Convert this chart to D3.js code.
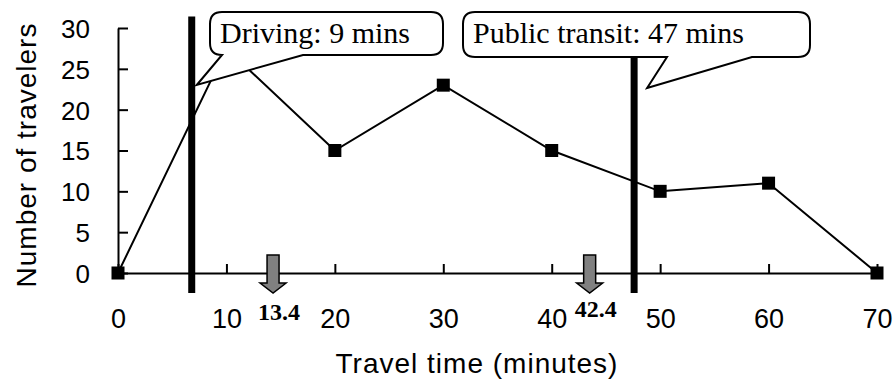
<!DOCTYPE html>
<html>
<head>
<meta charset="utf-8">
<script src="https://cdn.jsdelivr.net/npm/d3@7"></script>
<style>
  body { margin: 0; background: #fff; }
  svg { display: block; }
</style>
</head>
<body>
<div id="chart"></div>
<script>
// travel time (minutes) vs number of travelers
let times = [0, 10, 20, 30, 40, 50, 60, 70];
let travelers = [0, 27.5, 15, 23, 15, 10, 11, 0];
let xTicks = [0, 10, 20, 30, 40, 50, 60, 70];
let yTicks = [0, 5, 10, 15, 20, 25, 30];

// thick reference lines + callouts
let refTimes = [6.8, 47.6];
let refLabels = ["Driving: 9 mins", "Public transit: 47 mins"];

// grey arrows on the axis
let arrowTimes = [14.3, 43.5];
let arrowLabels = ["13.4", "42.4"];

let W = 895, H = 385;
let svg = d3.select("#chart").append("svg")
    .attr("width", W)
    .attr("height", H);

let x = d3.scaleLinear().domain([0, 70]).range([118, 877]);
let y = d3.scaleLinear().domain([0, 30]).range([273, 28]);

let sans = "'Liberation Sans', Arial, sans-serif";
let serif = "'Liberation Serif', 'Times New Roman', serif";

// x axis
let gx = svg.append("g")
    .attr("transform", "translate(0," + y(0) + ")")
    .call(d3.axisBottom(x).tickValues(xTicks).tickSizeInner(-9).tickSizeOuter(0).tickPadding(55));
gx.select(".domain").attr("stroke", "#000").attr("stroke-width", 2);
gx.selectAll(".tick line").attr("stroke", "#000").attr("stroke-width", 2);
gx.selectAll(".tick text")
    .attr("dy", "0")
    .style("font-family", sans)
    .style("font-size", "27px")
    .attr("fill", "#000");

// y axis
let gy = svg.append("g")
    .attr("transform", "translate(" + x(0) + ",0)")
    .call(d3.axisLeft(y).tickValues(yTicks).tickSizeInner(-10).tickSizeOuter(0).tickPadding(28));
gy.select(".domain").attr("stroke", "#000").attr("stroke-width", 2);
gy.selectAll(".tick line").attr("stroke", "#000").attr("stroke-width", 2);
gy.selectAll(".tick text")
    .attr("dy", "0.36em")
    .style("font-family", sans)
    .style("font-size", "26px")
    .attr("fill", "#000");

// axis titles
svg.append("text")
    .attr("x", 477)
    .attr("y", 373)
    .attr("text-anchor", "middle")
    .style("font-family", sans)
    .style("font-size", "28px")
    .style("letter-spacing", "1px")
    .text("Travel time (minutes)");

svg.append("text")
    .attr("transform", "translate(36,155) rotate(-90)")
    .attr("text-anchor", "middle")
    .style("font-family", sans)
    .style("font-size", "28px")
    .style("letter-spacing", "1px")
    .text("Number of travelers");

// data line
let pts = times.map(function (t, i) { return {t: t, v: travelers[i]}; });
let line = d3.line()
    .x(function (d) { return x(d.t); })
    .y(function (d) { return y(d.v); });

svg.append("path")
    .datum(pts)
    .attr("d", line)
    .attr("fill", "none")
    .attr("stroke", "#000")
    .attr("stroke-width", 2);

let ms = 13;
svg.selectAll(".marker")
    .data(pts)
    .enter().append("rect")
    .attr("class", "marker")
    .attr("x", function (d) { return x(d.t) - ms / 2; })
    .attr("y", function (d) { return y(d.v) - ms / 2; })
    .attr("width", ms)
    .attr("height", ms)
    .attr("fill", "#000");

// thick vertical lines
svg.selectAll(".ref")
    .data(refTimes)
    .enter().append("line")
    .attr("class", "ref")
    .attr("x1", function (d) { return x(d); })
    .attr("x2", function (d) { return x(d); })
    .attr("y1", y(31.4))
    .attr("y2", y(0) + 20)
    .attr("stroke", "#000")
    .attr("stroke-width", 7);

// callout bubbles
function bubble(x0, y0, x1, y1, r, b1, b2, tx, ty) {
    return "M" + (x0 + r) + "," + y0 +
        " H" + (x1 - r) + " Q" + x1 + "," + y0 + " " + x1 + "," + (y0 + r) +
        " V" + (y1 - r) + " Q" + x1 + "," + y1 + " " + (x1 - r) + "," + y1 +
        " H" + b2 + " L" + tx + "," + ty + " L" + b1 + "," + y1 +
        " H" + (x0 + r) + " Q" + x0 + "," + y1 + " " + x0 + "," + (y1 - r) +
        " V" + (y0 + r) + " Q" + x0 + "," + y0 + " " + (x0 + r) + "," + y0 + " Z";
}

let bubbles = [
    {x0: 210, x1: 443, y0: 12, y1: 55, b1: 222, b2: 303, tx: x(refTimes[0]) + 5, ty: 85, label: refLabels[0]},
    {x0: 463, x1: 810, y0: 12, y1: 57, b1: 667, b2: 752, tx: x(refTimes[1]) + 13, ty: 88, label: refLabels[1]}
];

bubbles.forEach(function (b) {
    svg.append("path")
        .attr("d", bubble(b.x0, b.y0, b.x1, b.y1, 12, b.b1, b.b2, b.tx, b.ty))
        .attr("fill", "#fff")
        .attr("stroke", "#000")
        .attr("stroke-width", 2);
    svg.append("text")
        .attr("x", b.x0 + 10)
        .attr("y", 43)
        .style("font-family", serif)
        .style("font-size", "30px")
        .text(b.label);
});

// grey down arrows
let arrowTop = y(0) - 18, shaftBot = y(0) + 10, tip = y(0) + 20;
svg.selectAll(".arrow")
    .data(arrowTimes)
    .enter().append("path")
    .attr("class", "arrow")
    .attr("d", function (d) {
        let cx = x(d);
        return "M" + (cx - 6) + "," + arrowTop + " H" + (cx + 6) + " V" + shaftBot +
            " H" + (cx + 13) + " L" + cx + "," + tip + " L" + (cx - 13) + "," + shaftBot +
            " H" + (cx - 6) + " Z";
    })
    .attr("fill", "#808080")
    .attr("stroke", "#000")
    .attr("stroke-width", 1.5);

svg.selectAll(".alabel")
    .data(arrowTimes)
    .enter().append("text")
    .attr("class", "alabel")
    .attr("x", function (d) { return x(d) + 6; })
    .attr("y", function (d, i) { return i == 0 ? 320 : 317; })
    .attr("text-anchor", "middle")
    .style("font-family", serif)
    .style("font-weight", "bold")
    .style("font-size", "24px")
    .text(function (d, i) { return arrowLabels[i]; });
</script>
</body>
</html>
